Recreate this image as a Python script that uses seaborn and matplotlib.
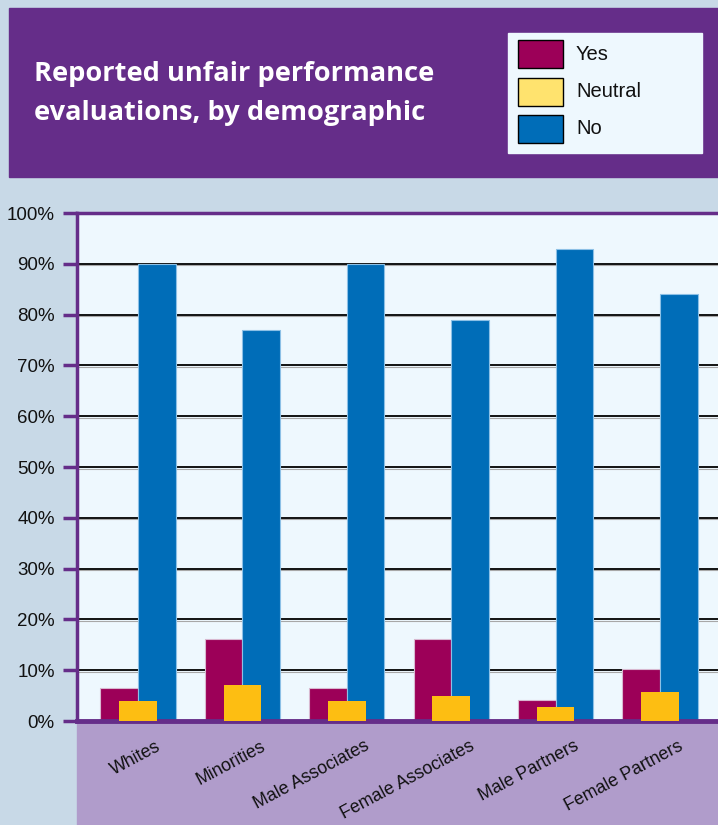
import numpy as np
import matplotlib
matplotlib.use("Agg")
import matplotlib.pyplot as plt
from matplotlib import font_manager
from matplotlib.font_manager import FontProperties
from matplotlib.patches import Rectangle
import seaborn as sns

# Datos (porcentajes)
categories = ["Whites", "Minorities", "Male Associates", "Female Associates",
              "Male Partners", "Female Partners"]
yes_vals = [6.4, 16.2, 6.4, 16.1, 4.1, 10.2]
neutral_vals = [3.9, 7.1, 3.9, 4.9, 2.8, 5.7]
no_vals = [90, 77, 90, 79, 93, 84]
series_names = ["Yes", "Neutral", "No"]
y_ticks = list(range(0, 101, 10))

# Colores
purple = "#652d89"
band = "#b09ccb"
bg = "#c8d9e7"
plot_bg = "#eef8fe"
c_yes = "#9c0058"
c_neutral = "#fdbe12"
c_neutral_leg = "#ffe36e"
c_no = "#006db8"


# Buscar una fuente estrecha si existe
def narrow_font_path():
    for f in font_manager.fontManager.ttflist:
        if f.name == "Liberation Sans Narrow" and f.style == "normal" and f.weight in (400, "normal", "regular"):
            return f.fname
    return None


narrow_path = narrow_font_path()
if narrow_path:
    def fp(size):
        return FontProperties(fname=narrow_path, size=size)
    tick_size, cat_size, leg_size = 16, 15.5, 16.5
else:
    def fp(size):
        return FontProperties(family="Liberation Sans", size=size)
    tick_size, cat_size, leg_size = 13.5, 12.8, 14.5

W, H = 718, 825
fig = plt.figure(figsize=(W / 100, H / 100), dpi=100)
fig.patch.set_facecolor(bg)


def fx(x):
    return x / W


def fy(y):
    return 1 - y / H


# Banda del título y banda de etiquetas
fig.add_artist(Rectangle((fx(9), fy(177)), fx(W - 9), (177 - 8) / H,
                         color=purple, transform=fig.transFigure, zorder=0))
fig.add_artist(Rectangle((fx(77), 0), 1, (H - 722) / H,
                         color=band, transform=fig.transFigure, zorder=0))

fig.text(fx(34), fy(81), "Reported unfair performance", color="white",
         fontsize=19.6, fontweight="bold", family="Open Sans", va="baseline")
fig.text(fx(34), fy(120), "evaluations, by demographic", color="white",
         fontsize=19.6, fontweight="bold", family="Open Sans", va="baseline")

# Leyenda manual
fig.add_artist(Rectangle((fx(508), fy(153)), fx(702 - 508), (153 - 33) / H,
                         color=plot_bg, transform=fig.transFigure))
for i, (name, col) in enumerate(zip(series_names, [c_yes, c_neutral_leg, c_no])):
    top = 40 + i * 37.5
    fig.add_artist(Rectangle((fx(518), fy(top + 28)), fx(45), 28 / H,
                             facecolor=col, edgecolor="black", lw=1,
                             transform=fig.transFigure))
    fig.text(fx(576), fy(top + 14), name, fontproperties=fp(leg_size),
             va="center", color="#111111")

# Ejes
ax = fig.add_axes([fx(77), (H - 721) / H, 1 - fx(77), 508 / H])
ax.set_facecolor(plot_bg)

pos = np.arange(len(categories))
bw = 0.36
for y in y_ticks[1:-1]:
    ax.axhline(y, color="black", lw=1.3, zorder=0.6)
    ax.axhline(y - 0.3, color="#a8a8a8", lw=0.8, zorder=0.5)

sns.barplot(x=pos - bw / 2, y=yes_vals, native_scale=True, orient="x", width=bw,
            color=c_yes, saturation=1, errorbar=None, edgecolor="#d8b8d0",
            linewidth=0.8, ax=ax, zorder=2)
sns.barplot(x=pos + bw / 2, y=no_vals, native_scale=True, orient="x", width=bw,
            color=c_no, saturation=1, errorbar=None, edgecolor="#8cc0e6",
            linewidth=0.8, ax=ax, zorder=2)
sns.barplot(x=pos, y=neutral_vals, native_scale=True, orient="x", width=bw,
            color=c_neutral, saturation=1, errorbar=None, linewidth=0,
            ax=ax, zorder=3)

ax.set_xlim(-0.584, 5.556)
ax.set_ylim(0, 100)
ax.set_yticks(y_ticks, [f"{v}%" for v in y_ticks])
ax.set_xticks(pos + 0.17, categories, rotation=28, ha="right",
              rotation_mode="anchor")
ax.set_xlabel("")
ax.set_ylabel("")

for lab in ax.get_yticklabels():
    lab.set_fontproperties(fp(tick_size))
    lab.set_color("#111111")
for lab in ax.get_xticklabels():
    lab.set_fontproperties(fp(cat_size))
    lab.set_color("#111111")

ax.tick_params(axis="y", length=10, width=2.5, color=purple, pad=6)
ax.tick_params(axis="x", length=0, pad=12)

ax.spines["right"].set_visible(False)
ax.spines["left"].set_color(purple)
ax.spines["left"].set_linewidth(2.5)
ax.spines["top"].set_color(purple)
ax.spines["top"].set_linewidth(2.5)
ax.spines["bottom"].set_color(purple)
ax.spines["bottom"].set_linewidth(3.5)

fig.savefig("out.png", dpi=100, facecolor=fig.get_facecolor())
